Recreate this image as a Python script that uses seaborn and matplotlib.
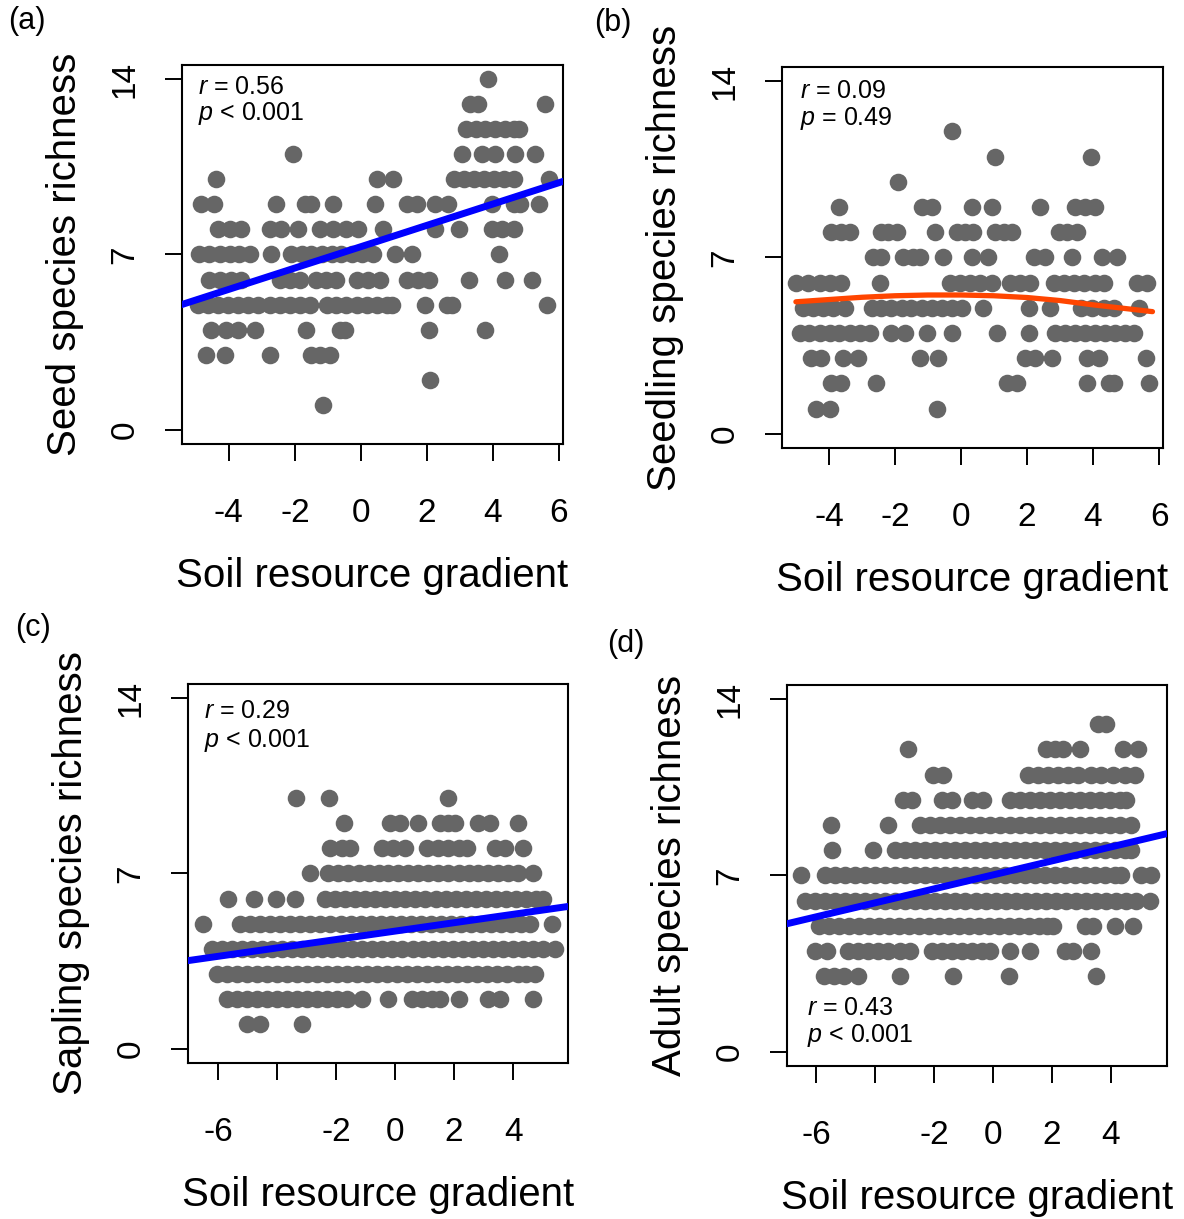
import pandas as pd
import matplotlib
matplotlib.use('Agg')
import matplotlib.pyplot as plt
import seaborn as sns

# ---------------- data ----------------
# x positions (soil resource gradient) of the points in each richness row
seed_rows = {
    14: [3.84],
    13: [3.31, 3.56, 5.59],
    12: [3.19, 3.49, 3.77, 4.07, 4.37, 4.63, 4.78],
    11: [-2.06, 3.06, 3.67, 4.07, 4.68, 5.27],
    10: [-4.38, 0.48, 0.98, 2.81, 3.11, 3.41, 3.72, 4.02, 4.32, 4.63, 5.69],
    9: [-4.84, -4.44, -2.56, -1.70, -1.50, -0.84, 0.43, 1.39, 1.69, 2.25, 2.65, 3.97, 4.63, 4.83, 5.39],
    8: [-4.33, -3.98, -3.63, -2.76, -2.41, -1.90, -1.25, -0.84, -0.44, -0.08, 0.68, 2.25, 2.96,
        3.97, 4.27, 4.63],
    7: [-4.89, -4.59, -4.28, -3.98, -3.68, -3.37, -2.71, -2.11, -1.80, -1.50, -1.19, -0.89, -0.59,
        -0.28, 0.02, 0.37, 1.03, 1.54, 4.17],
    6: [-4.59, -4.28, -3.93, -3.63, -2.46, -2.16, -1.85, -1.35, -1.05, -0.74, -0.13, 0.22, 0.58,
        1.39, 1.74, 2.05, 3.26, 4.37, 5.18],
    5: [-4.94, -4.64, -4.33, -4.03, -3.73, -3.42, -3.12, -2.76, -2.46, -2.16, -1.85, -1.55, -1.04,
        -0.74, -0.44, -0.13, 0.17, 0.48, 0.78, 0.93, 1.94, 2.60, 2.75, 5.64],
    4: [-4.54, -4.08, -3.73, -3.22, -1.65, -0.64, -0.49, 2.05, 3.77],
    3: [-4.69, -4.13, -2.76, -1.50, -1.25, -0.94],
    2: [2.10],
    1: [-1.16],
}
seedling_rows = {
    12: [-0.28],
    11: [1.03, 3.95],
    10: [-1.90],
    9: [-3.70, -1.19, -0.89, 0.32, 0.93, 2.40, 3.46, 3.77, 4.07],
    8: [-3.93, -3.63, -3.37, -2.41, -2.21, -1.95, -0.79, -0.13, 0.12, 0.37, 1.03, 1.29, 1.54,
        2.96, 3.21, 3.51],
    7: [-2.66, -2.41, -1.75, -1.45, -1.25, -0.54, 0.32, 0.83, 2.20, 2.55, 3.36, 4.27, 4.73],
    6: [-4.99, -4.64, -4.28, -3.98, -3.63, -2.46, -0.33, -0.03, 0.27, 0.58, 0.93, 1.49, 1.79, 2.10,
        2.81, 3.11, 3.41, 3.72, 4.07, 4.32, 5.34, 5.64],
    5: [-4.79, -4.49, -4.18, -3.88, -3.52, -2.71, -2.41, -2.11, -1.80, -1.50, -1.19, -0.89, -0.59,
        -0.28, 0.02, 0.68, 2.05, 2.70, 3.62, 3.97, 4.32, 4.63, 5.39],
    4: [-4.89, -4.59, -4.28, -3.98, -3.68, -3.37, -3.07, -2.76, -2.11, -1.70, -1.04, -0.28, 1.08,
        2.05, 2.86, 3.16, 3.46, 3.77, 4.07, 4.37, 4.68, 4.98, 5.24],
    3: [-4.54, -4.23, -3.57, -3.12, -1.25, -0.69, 1.94, 2.25, 2.75, 3.82, 4.17, 5.59],
    2: [-3.93, -3.63, -2.58, 1.39, 1.69, 3.82, 4.48, 4.63, 5.69],
    1: [-4.38, -3.98, -0.72],
}
sapling_rows = {
    10: [-3.36, -2.23, 1.81],
    9: [-1.72, -0.17, 0.17, 0.79, 1.53, 1.81, 2.03, 2.82, 3.22, 4.18],
    8: [-2.20, -1.81, -1.53, -0.45, -0.06, 0.34, 1.07, 1.47, 1.81, 2.15, 2.43, 3.39, 3.73, 4.35],
    7: [-2.88, -2.26, -1.92, -1.58, -1.24, -0.90, -0.56, -0.23, 0.11, 0.45, 0.79, 1.13, 1.47, 1.81,
        2.15, 2.49, 2.82, 3.16, 3.50, 3.84, 4.18, 4.69],
    6: [-5.65, -4.77, -4.05, -3.39, -2.37, -2.03, -1.69, -1.35, -1.01, -0.67, -0.33, 0.01, 0.35,
        0.69, 1.03, 1.37, 1.71, 2.05, 2.39, 2.73, 3.07, 3.41, 3.75, 4.09, 4.43, 4.77, 5.03],
    5: [-6.50, -5.25, -4.91, -4.57, -4.23, -3.89, -3.55, -3.21, -2.87, -2.53, -2.19, -1.85, -1.51,
        -1.17, -0.83, -0.49, -0.15, 0.19, 0.53, 0.87, 1.21, 1.55, 1.89, 2.23, 2.57, 2.91, 3.25,
        3.59, 3.93, 4.27, 4.58, 5.31],
    4: [-6.21, -5.87, -5.53, -5.19, -4.85, -4.51, -4.17, -3.83, -3.49, -3.15, -2.81, -2.47, -2.13,
        -1.79, -1.45, -1.11, -0.77, -0.43, -0.09, 0.25, 0.59, 0.93, 1.27, 1.61, 1.95, 2.29, 2.63,
        2.97, 3.31, 3.65, 3.99, 4.33, 4.67, 5.01, 5.42],
    3: [-6.05, -5.71, -5.37, -5.03, -4.69, -4.35, -4.01, -3.67, -3.33, -2.99, -2.65, -2.31, -1.97,
        -1.63, -1.29, -0.95, -0.61, -0.27, 0.07, 0.41, 0.75, 1.09, 1.43, 1.77, 2.11, 2.45, 2.79,
        3.13, 3.47, 3.81, 4.15, 4.45, 4.75],
    2: [-5.71, -5.37, -5.03, -4.69, -4.35, -4.01, -3.67, -3.33, -2.99, -2.65, -2.31, -1.97, -1.63,
        -1.13, -0.25, 0.56, 0.90, 1.24, 1.53, 2.17, 3.16, 3.56, 4.69],
    1: [-5.03, -4.58, -3.16],
}
adult_rows = {
    13: [3.56, 3.84],
    12: [-2.88, 1.81, 2.09, 2.37, 2.94, 4.41, 4.92],
    11: [-2.03, -1.69, 1.19, 1.53, 1.86, 2.20, 2.54, 2.88, 3.33, 3.67, 4.07, 4.46, 4.80],
    10: [-3.05, -2.77, -1.75, -1.41, -0.73, -0.34, 0.56, 0.90, 1.24, 1.58, 1.92, 2.26, 2.60, 2.94,
         3.28, 3.62, 3.96, 4.30, 4.52],
    9: [-5.51, -3.56, -2.49, -2.15, -1.81, -1.47, -1.13, -0.79, -0.45, -0.11, 0.23, 0.57, 0.91,
        1.25, 1.59, 1.93, 2.27, 2.61, 2.95, 3.29, 3.63, 3.97, 4.31, 4.69],
    8: [-5.48, -4.07, -3.33, -2.99, -2.65, -2.31, -1.97, -1.63, -1.29, -0.95, -0.61, -0.27, 0.07,
        0.41, 0.75, 1.09, 1.43, 1.77, 2.11, 2.45, 2.79, 3.13, 3.47, 3.81, 4.15, 4.49, 4.69],
    7: [-6.53, -5.71, -5.37, -5.03, -4.69, -4.35, -4.01, -3.67, -3.33, -2.99, -2.65, -2.31, -1.97,
        -1.63, -1.29, -0.95, -0.61, -0.27, 0.07, 0.41, 0.75, 1.09, 1.43, 1.77, 2.11, 2.45, 2.79,
        3.13, 3.47, 3.81, 4.15, 4.35, 5.03, 5.37],
    6: [-6.38, -6.04, -5.70, -5.36, -5.02, -4.68, -4.34, -4.00, -3.66, -3.32, -2.98, -2.64, -2.30,
        -1.96, -1.62, -1.28, -0.94, -0.60, -0.26, 0.08, 0.42, 0.76, 1.10, 1.44, 1.78, 2.12, 2.46,
        2.80, 3.14, 3.48, 3.82, 4.16, 4.50, 4.84, 5.31],
    5: [-5.93, -5.59, -5.25, -4.91, -4.57, -4.23, -3.89, -3.55, -3.21, -2.87, -2.53, -2.19, -1.85,
        -1.51, -1.17, -0.83, -0.49, -0.15, 0.19, 0.53, 0.87, 1.21, 1.55, 1.83, 2.03, 3.11, 3.39,
        4.12, 4.75],
    4: [-6.05, -5.65, -4.92, -4.58, -4.24, -3.90, -3.56, -3.18, -2.82, -2.09, -1.75, -1.41, -1.07,
        -0.73, -0.39, -0.11, 0.56, 1.24, 2.43, 2.71, 3.33],
    3: [-5.76, -5.42, -5.08, -4.58, -3.16, -1.38, 0.54, 3.48],
}

# fitted lines
seed_fit_x = [-5.5, 6.2]
seed_fit_y = [4.97, 9.95]
seedling_fit_x = [-5.0, -4.0, -3.0, -2.0, -1.0, 0.0, 1.0, 2.0, 3.0, 4.0, 5.0, 5.8]
seedling_fit_y = [5.24, 5.33, 5.42, 5.48, 5.51, 5.51, 5.48, 5.41, 5.29, 5.12, 4.97, 4.85]
sapling_fit_x = [-7.1, 5.9]
sapling_fit_y = [3.51, 5.69]
adult_fit_x = [-7.2, 5.9]
adult_fit_y = [5.03, 8.66]

stats = {
    'a': ('0.56', '<', '0.001'),
    'b': ('0.09', '=', '0.49'),
    'c': ('0.29', '<', '0.001'),
    'd': ('0.43', '<', '0.001'),
}


def rows_to_df(rows):
    data = [{'x': x, 'y': y} for y, xs in rows.items() for x in xs]
    return pd.DataFrame(data)


sns.set_style("ticks")
plt.rcParams['font.family'] = ['Liberation Sans', 'DejaVu Sans']
plt.rcParams['mathtext.fontset'] = 'custom'
plt.rcParams['mathtext.rm'] = 'Liberation Sans'
plt.rcParams['mathtext.it'] = 'Liberation Sans:italic'
plt.rcParams['axes.unicode_minus'] = False
for k in ['text.color', 'axes.labelcolor', 'xtick.color', 'ytick.color', 'axes.edgecolor']:
    plt.rcParams[k] = 'black'

fig = plt.figure(figsize=(11.84, 12.19), dpi=100)

panels = [
    ('a', seed_rows, seed_fit_x, seed_fit_y, 'blue', 5, 'Seed species richness',
     [0.1537, 0.6358, 0.3218, 0.3109], (-5.42, 6.12), [-4, -2, 0, 2, 4, 6], None, (0.042, 0.942, 0.871)),
    ('b', seedling_rows, seedling_fit_x, seedling_fit_y, 'orangered', 3.8, 'Seedling species richness',
     [0.6605, 0.6325, 0.3218, 0.3126], (-5.42, 6.12), [-4, -2, 0, 2, 4, 6], None, (0.047, 0.937, 0.864)),
    ('c', sapling_rows, sapling_fit_x, sapling_fit_y, 'blue', 5, 'Sapling species richness',
     [0.1588, 0.1280, 0.3209, 0.3109], (-7.02, 5.86), [-6, -4, -2, 0, 2, 4],
     ['-6', '', '-2', '0', '2', '4'], (0.042, 0.929, 0.852)),
    ('d', adult_rows, adult_fit_x, adult_fit_y, 'blue', 5, 'Adult species richness',
     [0.6647, 0.1255, 0.3209, 0.3126], (-7.0, 5.9), [-6, -4, -2, 0, 2, 4],
     ['-6', '', '-2', '0', '2', '4'], (0.053, 0.152, 0.079)),
]

for key, rows, fx, fy, lcol, lw, ylab, pos, xlim, xticks, xtl, tpos in panels:
    ax = fig.add_axes(pos)
    df = rows_to_df(rows)
    sns.scatterplot(data=df, x='x', y='y', ax=ax, color='#666666', s=160, linewidth=0, zorder=2)
    sns.lineplot(x=fx, y=fy, ax=ax, color=lcol, linewidth=lw, zorder=3, sort=False)
    ax.set(xlim=xlim, ylim=(-0.56, 14.56), yticks=[0, 7, 14], xticks=xticks)
    if xtl is not None:
        ax.set_xticklabels(xtl)
    ax.set_yticklabels(['0', '7', '14'], rotation=90, va='center')
    ax.set_xlabel('Soil resource gradient', fontsize=29, labelpad=20)
    ax.set_ylabel(ylab, fontsize=29, labelpad=18)
    ax.tick_params(direction='out', length=12, width=1.4, labelsize=24, color='black', labelcolor='black')
    ax.tick_params(axis='x', pad=27)
    ax.tick_params(axis='y', pad=18)
    for sp in ax.spines.values():
        sp.set_linewidth(1.5)
        sp.set_color('black')
    r, op, p = stats[key]
    ax.text(tpos[0], tpos[1], f'$\\it{{r}}$ = {r}', transform=ax.transAxes, fontsize=18, va='center')
    ax.text(tpos[0], tpos[2], f'$\\it{{p}}$ {op} {p}', transform=ax.transAxes, fontsize=18, va='center')

fig.text(0.007, 0.983, '(a)', fontsize=22, va='center')
fig.text(0.502, 0.981, '(b)', fontsize=22, va='center')
fig.text(0.013, 0.485, '(c)', fontsize=22, va='center')
fig.text(0.513, 0.472, '(d)', fontsize=22, va='center')

fig.savefig('out.png', dpi=100)
